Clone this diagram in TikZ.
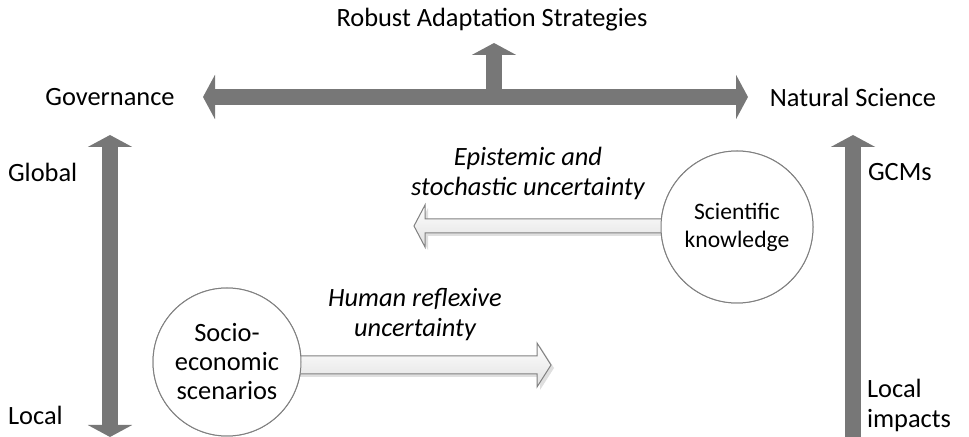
\documentclass[tikz,border=0pt]{standalone}
\usepackage{fontspec}
\setmainfont{Carlito}
\usetikzlibrary{arrows.meta,calc,shadows}
\definecolor{bargray}{HTML}{777777}
\definecolor{rimgray}{HTML}{808080}

\begin{document}
\begin{tikzpicture}[x=0.5pt, y=-0.5pt,
    lbl/.style={font=\fontsize{13.2}{15}\selectfont},
    ital/.style={font=\fontsize{13.2}{15}\selectfont\itshape, align=center},
    bar/.style={draw=bargray, line width=8pt, -{Triangle[length=6pt,width=22pt]}},
    dbar/.style={draw=bargray, line width=8pt, {Triangle[length=6pt,width=22pt]}-{Triangle[length=6pt,width=22pt]}},
    bubble/.style={circle, draw=rimgray, line width=0.5pt, fill=white, align=center, inner sep=0pt},
    hollow/.style={draw=rimgray, line width=0.5pt, top color=white, bottom color=black!12,
      drop shadow={opacity=0.25, shadow xshift=1.5pt, shadow yshift=-1.5pt}}]
  \useasboundingbox (0,0) rectangle (969,437);

  % Labels round the frame
  \node[lbl] (title) at (492,20) {Robust Adaptation Strategies};
  \node[lbl] (gov) at (110,97) {Governance};
  \node[lbl] (nat) at (853,97) {Natural Science};
  \node[lbl, anchor=west] (glob) at (1,172) {Global};
  \node[lbl, anchor=west] (loc) at (1,415) {Local};
  \node[lbl, anchor=west] (gcm) at (861,172) {GCMs};
  \node[lbl, anchor=west, align=left] (imp) at (860,405) {Local\\impacts};

  % Ends of the thick arrows
  \coordinate (govEnd) at (203,97);
  \coordinate (natEnd) at (748,97);
  \coordinate (junc) at (494,105);
  \coordinate (upEnd) at (494,43);
  \coordinate (globEnd) at (110,135);
  \coordinate (locEnd) at (110,437);
  \coordinate (gcmEnd) at (853,135);
  \coordinate (impStart) at (853,440);

  \draw[dbar] (govEnd) -- (natEnd);
  \draw[bar] (junc) -- (upEnd);
  \draw[dbar] (globEnd) -- (locEnd);
  \draw[bar] (impStart) -- (gcmEnd);

  % Hollow arrows out of the two circles
  \coordinate (epiTip) at (414,226);
  \coordinate (rflTip) at (551,365);
  \node[bubble, minimum size=76pt] (sci) at (737,227) {};
  \node[bubble, minimum size=74pt] (soc) at (227,362) {};

  \draw[hollow] ($(sci.center |- epiTip)+(0,7)$) -- ($(epiTip)+(11,7)$) -- ($(epiTip)+(11,21)$)
    -- (epiTip) -- ($(epiTip)+(11,-21)$) -- ($(epiTip)+(11,-7)$) -- ($(sci.center |- epiTip)+(0,-7)$) -- cycle;
  \draw[hollow] ($(soc.center |- rflTip)+(0,9)$) -- ($(rflTip)+(-14,9)$) -- ($(rflTip)+(-14,22)$)
    -- (rflTip) -- ($(rflTip)+(-14,-22)$) -- ($(rflTip)+(-14,-9)$) -- ($(soc.center |- rflTip)+(0,-9)$) -- cycle;

  \node[bubble, minimum size=76pt, font=\fontsize{11.8}{14}\selectfont] at (sci) {Scientific\\knowledge};
  \node[bubble, minimum size=74pt, font=\fontsize{13.2}{14.5}\selectfont] at (soc) {Socio-\\economic\\scenarios};

  \node[ital] (epi) at (528,173) {Epistemic and\\stochastic uncertainty};
  \node[ital] (rfl) at (415,315) {Human reflexive\\uncertainty};
\end{tikzpicture}
\end{document}
